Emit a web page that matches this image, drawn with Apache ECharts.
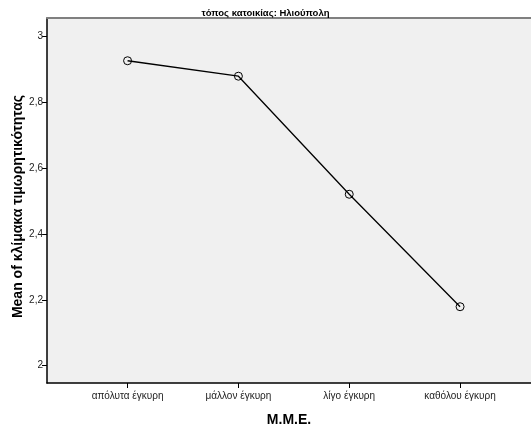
<!DOCTYPE html>
<html>
<head>
<meta charset="utf-8">
<script src="https://cdn.jsdelivr.net/npm/echarts@6/dist/echarts.min.js"></script>
<style>
html,body{margin:0;padding:0;background:#fff;}
#c{width:531px;height:425px;}
</style>
</head>
<body>
<div id="c"></div>
<script>
const categories = ['απόλυτα έγκυρη', 'μάλλον έγκυρη', 'λίγο έγκυρη', 'καθόλου έγκυρη'];
const means = [2.927, 2.880, 2.521, 2.179];
const yTicks = [2, 2.2, 2.4, 2.6, 2.8, 3];
const titleText = 'τόπος κατοικίας: Ηλιούπολη';
const yName = 'Mean of κλίμακα τιμωρητικότητας';
const xName = 'Μ.Μ.Ε.';

const FONT = '"Liberation Sans", Arial, sans-serif';
const catIdx = categories.map((c, i) => i);
const chart = echarts.init(document.getElementById('c'), null, {renderer: 'canvas'});
chart.setOption({
  animation: false,
  backgroundColor: '#ffffff',
  title: {
    text: titleText, left: 'center', top: 6, padding: [2, 5, 2, 5],
    textStyle: {fontFamily: FONT, fontSize: 9.5, fontWeight: 'bold', color: '#000'}
  },
  grid: {
    left: 47, right: 0, top: 18, bottom: 42,
    containLabel: false, outerBoundsMode: 'none',
    show: true, backgroundColor: '#f0f0f0', borderWidth: 0
  },
  xAxis: [{
    type: 'value', min: -0.727, max: 3.64,
    name: xName, nameLocation: 'middle', nameGap: 30, nameMoveOverlap: false,
    nameTextStyle: {fontFamily: FONT, fontSize: 14, fontWeight: 'bold', color: '#000'},
    axisLine: {show: true, onZero: false, lineStyle: {color: '#000', width: 1.5}},
    axisTick: {show: true, customValues: catIdx, length: 5, lineStyle: {color: '#000'}},
    axisLabel: {
      customValues: catIdx, margin: 8,
      fontFamily: FONT, fontSize: 10, color: '#222',
      formatter: v => categories[Math.round(v)]
    },
    splitLine: {show: false}
  }, {
    type: 'value', position: 'top', min: -0.727, max: 3.64,
    axisLine: {show: true, onZero: false, lineStyle: {color: '#808080', width: 2}},
    axisTick: {show: false}, axisLabel: {show: false}, splitLine: {show: false}
  }],
  yAxis: {
    type: 'value', min: 1.947, max: 3.057,
    name: yName, nameLocation: 'middle', nameGap: 22, nameMoveOverlap: false,
    nameTextStyle: {fontFamily: FONT, fontSize: 14, fontWeight: 'bold', color: '#000', padding: [0, 12, 0, 0]},
    axisLine: {show: true, onZero: false, lineStyle: {color: '#000', width: 1.5}},
    axisTick: {show: true, customValues: yTicks, length: 5, lineStyle: {color: '#000'}},
    axisLabel: {
      customValues: yTicks, margin: 4,
      fontFamily: FONT, fontSize: 10, color: '#222',
      formatter: v => String(Math.round(v * 10) / 10).replace('.', ',')
    },
    splitLine: {show: false}
  },
  series: [{
    type: 'line',
    xAxisIndex: 0,
    data: means.map((v, i) => [catIdx[i], v]),
    symbol: 'circle', symbolSize: 8,
    itemStyle: {color: 'rgba(0,0,0,0)', borderColor: '#000', borderWidth: 1},
    lineStyle: {color: '#000', width: 1.3}
  }]
});
</script>
</body>
</html>
